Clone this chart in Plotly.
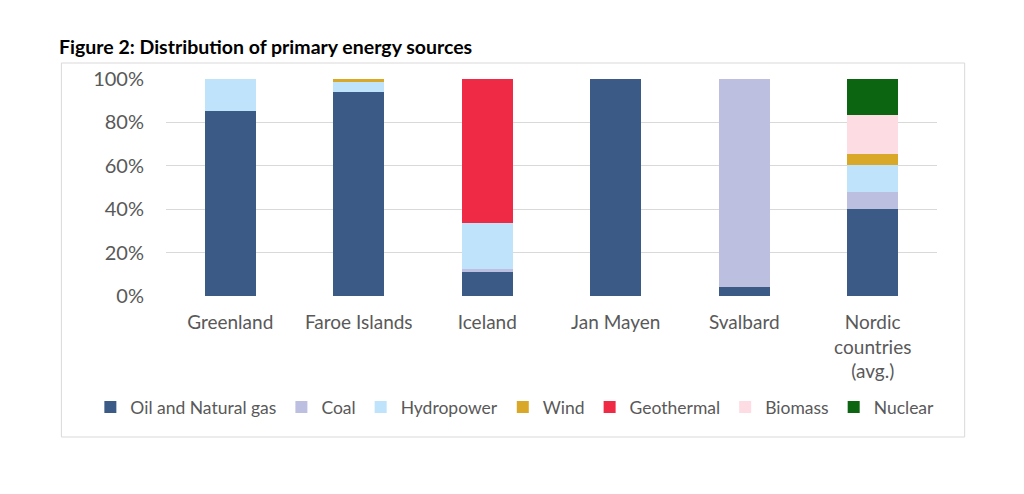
import plotly.graph_objects as go

categories = ["Greenland", "Faroe Islands", "Iceland", "Jan Mayen", "Svalbard", "Nordic<br>countries<br>(avg.)"]
series_names = ["Oil and Natural gas", "Coal", "Hydropower", "Wind", "Geothermal", "Biomass", "Nuclear"]
oil = [85.3, 94.2, 11.0, 100.0, 4.0, 40.0]
coal = [0.0, 0.0, 1.5, 0.0, 96.0, 8.0]
hydro = [14.7, 4.3, 21.0, 0.0, 0.0, 12.5]
wind = [0.0, 1.5, 0.0, 0.0, 0.0, 5.0]
geothermal = [0.0, 0.0, 66.5, 0.0, 0.0, 0.0]
biomass = [0.0, 0.0, 0.0, 0.0, 0.0, 18.0]
nuclear = [0.0, 0.0, 0.0, 0.0, 0.0, 16.5]
colors = ["#3B5A86", "#BDBFE1", "#BEE3FA", "#DAA829", "#EE2A45", "#FDDDE3", "#0C6510"]
y_ticks = [0, 20, 40, 60, 80, 100]

values = [oil, coal, hydro, wind, geothermal, biomass, nuclear]

FONT = "Lato"
fig = go.Figure()
for name, vals, col in zip(series_names, values, colors):
    fig.add_trace(go.Bar(
        x=categories, y=vals, name=name,
        marker=dict(color=col, line=dict(width=0)),
        width=0.4,
    ))

OFF = 8  # page offset
L, R, T, B = 165.7 - OFF, 937.3 - OFF, 79 - OFF, 296 - OFF
W, H = R - L, B - T

def px(x):
    return (x - OFF - L) / W

def py(y):
    return (B - (y - OFF)) / H

fig.update_layout(
    barmode="stack",
    width=1024, height=494,
    margin=dict(l=L, r=1024 - R, t=T, b=494 - B, autoexpand=False),
    paper_bgcolor="white", plot_bgcolor="white",
    font=dict(family=FONT, color="#595959", size=19),
    showlegend=True,
    legend=dict(orientation="h", x=px(90), xanchor="left", y=py(407), yanchor="middle",
                font=dict(size=17.5, color="#595959"), traceorder="normal",
                itemwidth=30, tracegroupgap=0),
    xaxis=dict(showgrid=False, showline=False, ticks="", ticklabelstandoff=13,
               tickfont=dict(size=19, color="#595959"), fixedrange=True),
    yaxis=dict(range=[0, 100], tickvals=y_ticks, ticktext=[f"{v}%" for v in y_ticks],
               showgrid=True, gridcolor="#D9D9D9", gridwidth=1, zeroline=False,
               ticks="", ticklabelstandoff=21, tickfont=dict(size=20, color="#595959")),
    shapes=[dict(type="rect", xref="paper", yref="paper",
                 x0=px(61), x1=px(965), y0=py(437), y1=py(63),
                 line=dict(color="#D9D9D9", width=1), fillcolor="rgba(0,0,0,0)", layer="below")],
    annotations=[dict(text="<b>Figure 2: Distribution of primary energy sources</b>",
                      xref="paper", yref="paper", x=px(57), y=py(46), xanchor="left", yanchor="middle",
                      showarrow=False, font=dict(family=FONT, size=19.5, color="#000000"))],
)

fig.write_html("out.html")
